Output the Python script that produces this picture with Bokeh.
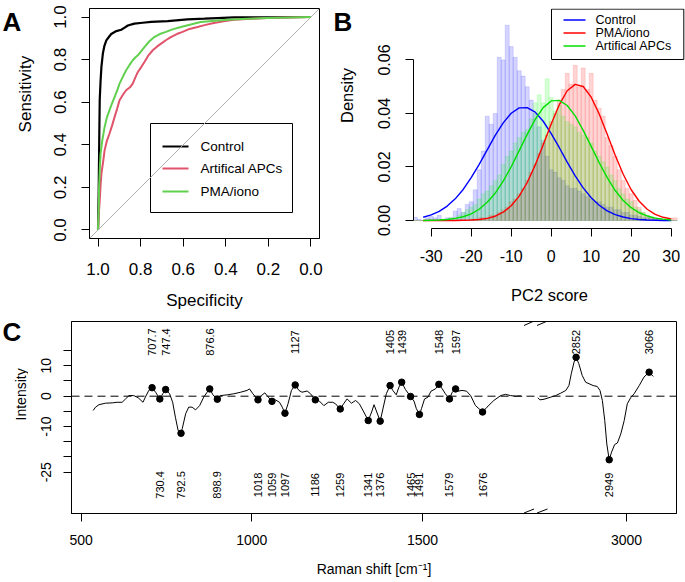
import math
from bokeh.plotting import figure
from bokeh.models import Range1d, FixedTicker, PrintfTickFormatter, Slope, Span
from bokeh.layouts import column, row
from bokeh.embed import file_html
from bokeh.resources import INLINE
from bokeh.core.properties import value

FONT = "Liberation Sans"

# ---------------- Panel A: ROC curves (specificity, sensitivity) ----------------
roc_control_spec = [1.0, 0.997, 0.994, 0.992, 0.988, 0.984, 0.977, 0.970, 0.961, 0.950, 0.938, 0.914, 0.891,
                    0.875, 0.86, 0.829, 0.79, 0.751, 0.673, 0.58, 0.50, 0.44, 0.362, 0.2, 0.0]
roc_control_sens = [0.0, 0.17, 0.45, 0.61, 0.70, 0.766, 0.83, 0.865, 0.89, 0.905, 0.92, 0.934, 0.94,
                    0.95, 0.96, 0.969, 0.973, 0.977, 0.981, 0.989, 0.992, 0.995, 0.998, 0.999, 1.0]
roc_apc_spec = [1.0, 0.996, 0.992, 0.988, 0.984, 0.976, 0.969, 0.958, 0.946, 0.934, 0.922, 0.91, 0.899, 0.883,
                0.868, 0.85, 0.837, 0.825, 0.813, 0.797, 0.782, 0.763, 0.743, 0.722, 0.704, 0.68, 0.658, 0.63,
                0.603, 0.57, 0.533, 0.5, 0.456, 0.41, 0.362, 0.3, 0.207, 0.1, 0.0]
roc_apc_sens = [0.0, 0.08, 0.14, 0.21, 0.266, 0.32, 0.375, 0.42, 0.453, 0.49, 0.531, 0.57, 0.609, 0.635,
                0.656, 0.67, 0.6875, 0.715, 0.742, 0.765, 0.789, 0.82, 0.844, 0.862, 0.875, 0.892, 0.906, 0.92,
                0.93, 0.944, 0.953, 0.962, 0.972, 0.98, 0.9875, 0.991, 0.995, 0.998, 1.0]
roc_pma_spec = [1.0, 0.997, 0.995, 0.991, 0.988, 0.98, 0.969, 0.958, 0.946, 0.934, 0.922, 0.91, 0.899, 0.883,
                0.868, 0.852, 0.837, 0.825, 0.813, 0.797, 0.782, 0.76, 0.736, 0.71, 0.681, 0.65, 0.611, 0.56,
                0.518, 0.45, 0.393, 0.3, 0.207, 0.1, 0.0]
roc_pma_sens = [0.0, 0.1, 0.203, 0.30, 0.359, 0.42, 0.484, 0.53, 0.5625, 0.595, 0.625, 0.655, 0.6875, 0.72,
                0.75, 0.775, 0.797, 0.81, 0.82, 0.84, 0.859, 0.885, 0.906, 0.92, 0.93, 0.942, 0.953, 0.966,
                0.977, 0.983, 0.9875, 0.992, 0.995, 0.998, 1.0]
roc_names = ["Control", "Artifical APCs", "PMA/iono"]
a_ticks = [0.0, 0.2, 0.4, 0.6, 0.8, 1.0]

# ---------------- Panel B: PC2 score histograms + normal fits ----------------
hist_bins = [-34, -33, -32, -31, -30, -29, -28, -27, -26, -25, -24, -23, -22, -21, -20, -19, -18, -17,
             -16, -15, -14, -13, -12, -11, -10, -9, -8, -7, -6, -5, -4, -3, -2, -1, 0, 1, 2, 3, 4, 5, 6,
             7, 8, 9, 10, 11, 12, 13, 14, 15, 16, 17, 18, 19, 20, 21, 22, 23, 24, 25, 26, 27, 28, 29, 30, 31]
hist_control = [0.0012, 0.0005, 0.0, 0.001, 0.0015, 0.001, 0.002, 0.0005, 0.001, 0.001, 0.0035, 0.0045,
                0.003, 0.006, 0.007, 0.0115, 0.019, 0.026, 0.039, 0.036, 0.040, 0.061, 0.060, 0.073, 0.065,
                0.061, 0.056, 0.054, 0.050, 0.045, 0.040, 0.035, 0.030, 0.024, 0.019, 0.018, 0.016, 0.015,
                0.013, 0.012, 0.012, 0.011, 0.010, 0.009, 0.008, 0.007, 0.007, 0.006, 0.005, 0.005, 0.004,
                0.004, 0.003, 0.003, 0.002, 0.002, 0.0015, 0.001, 0.001, 0.001, 0.0005, 0.0005, 0.0, 0.0,
                0.0, 0.0]
hist_pma = [0.0, 0.0, 0.0, 0.0, 0.0, 0.0, 0.0, 0.0, 0.0, 0.0, 0.0, 0.0, 0.0, 0.0, 0.0005, 0.0005, 0.001,
            0.001, 0.001, 0.002, 0.002, 0.003, 0.004, 0.005, 0.007, 0.008, 0.010, 0.012, 0.015, 0.018, 0.021,
            0.025, 0.029, 0.032, 0.037, 0.040, 0.045, 0.049, 0.055, 0.051, 0.058, 0.050, 0.057, 0.049, 0.055,
            0.045, 0.042, 0.039, 0.031, 0.028, 0.024, 0.019, 0.015, 0.012, 0.010, 0.0075, 0.005, 0.003,
            0.002, 0.0012, 0.001, 0.0005, 0.0005, 0.0005, 0.0008, 0.001]
hist_apc = [0.0, 0.0, 0.0, 0.0, 0.0, 0.0, 0.0, 0.0, 0.0005, 0.001, 0.001, 0.002, 0.003, 0.004, 0.005, 0.006,
            0.008, 0.010, 0.011, 0.013, 0.015, 0.017, 0.021, 0.024, 0.026, 0.029, 0.031, 0.033, 0.034, 0.038,
            0.044, 0.047, 0.044, 0.053, 0.046, 0.041, 0.043, 0.039, 0.037, 0.036, 0.035, 0.033, 0.032, 0.031,
            0.029, 0.026, 0.024, 0.022, 0.020, 0.017, 0.015, 0.012, 0.010, 0.008, 0.007, 0.005, 0.004, 0.003,
            0.002, 0.0015, 0.001, 0.0005, 0.0, 0.0, 0.0, 0.0]
fit_x = [-32, -30, -28, -26, -24, -22, -20, -18, -16, -14, -12, -10, -8, -6, -4, -2, 0, 2, 4, 6, 8, 10,
         12, 14, 16, 18, 20, 22, 24, 26, 28, 30]
fit_control = [0.0012, 0.0021, 0.0034, 0.0054, 0.0081, 0.0116, 0.0160, 0.0210, 0.0264, 0.0318, 0.0365,
               0.0401, 0.0421, 0.0422, 0.0405, 0.0371, 0.0325, 0.0273, 0.0218, 0.0167, 0.0122, 0.0085,
               0.0057, 0.0036, 0.0022, 0.0013, 0.0007, 0.0004, 0.0002, 0.0001, 0.0, 0.0]
fit_pma = [0.0, 0.0, 0.0, 0.0, 0.0, 0.0001, 0.0002, 0.0004, 0.0008, 0.0016, 0.0031, 0.0055, 0.0091,
           0.0142, 0.0207, 0.0283, 0.0361, 0.0432, 0.0485, 0.0509, 0.0501, 0.0461, 0.0398, 0.0322, 0.0244,
           0.0173, 0.0115, 0.0072, 0.0042, 0.0023, 0.0012, 0.0006]
fit_apc = [0.0, 0.0001, 0.0002, 0.0004, 0.0008, 0.0014, 0.0025, 0.0042, 0.0068, 0.0102, 0.0147, 0.0201,
           0.0261, 0.0322, 0.0378, 0.0422, 0.0447, 0.0449, 0.0430, 0.0391, 0.0337, 0.0277, 0.0216, 0.0160,
           0.0112, 0.0075, 0.0048, 0.0029, 0.0017, 0.0009, 0.0005, 0.0002]
b_names = ["Control", "PMA/iono", "Artifical APCs"]
b_xticks = [-30, -20, -10, 0, 10, 20, 30]
b_yticks = [0.0, 0.02, 0.04, 0.06]

# ---------------- Panel C: difference spectrum ----------------
spec_lo_x = [535, 542, 552, 571, 591, 605, 620, 630, 640, 654, 667, 681, 688, 698, 707.7, 718, 730.4, 739,
             747.4, 759, 768, 776, 784, 792.5, 796, 806, 815, 825, 835, 847, 859, 869, 876.6, 886, 898.9,
             908, 928, 947, 967, 986, 993, 1003, 1018, 1028, 1038, 1048, 1059, 1069, 1081, 1089, 1097,
             1106, 1116, 1127, 1138, 1147, 1162, 1172, 1186, 1196, 1211, 1224, 1237, 1245, 1259, 1270,
             1279, 1292, 1304, 1315, 1328, 1341, 1351, 1358, 1366, 1376, 1384, 1394, 1405, 1413, 1423,
             1431, 1439, 1450, 1465, 1475, 1482, 1491, 1497, 1506, 1516, 1525, 1538, 1548, 1558, 1567,
             1579, 1587, 1597, 1604, 1616, 1629, 1641, 1655, 1676, 1689, 1709, 1729, 1743, 1758, 1773,
             1787, 1792]
spec_lo_y = [-4.7, -3.6, -2.8, -2.3, -2.2, -2.0, -2.0, -0.9, 0.2, 0.2, -0.5, -2.0, -0.3, 1.9, 2.8, 1.3, -0.9,
             0.8, 2.2, 0.8, -2.0, -6.9, -11.3, -12.2, -10.7, -5.8, -3.6, -3.6, -4.5, -3.1, -0.3, 1.3, 2.4,
             0.45, -1.0, 0.2, 0.45, 0.8, 1.3, 1.9, 2.4, 0.8, -1.2, 0.2, 1.1, -0.3, -1.7, -1.2, -2.0, -3.6,
             -5.6, -2.5, 1.9, 3.7, 1.9, 1.3, 1.7, 0.8, -1.2, -1.4, -3.1, -2.0, -2.0, -2.5, -4.2, -2.3, -0.9,
             -2.3, -1.4, -2.5, -5.2, -8.0, -5.2, -2.8, -5.2, -8.2, -4.2, 0.8, 3.5, 1.9, 0.45, 3.0, 4.6, 2.2,
             -0.1, -1.6, -4.1, -6.0, -4.1, -0.9, -0.3, 1.66, 2.4, 3.9, 2.4, 0.8, -0.9, 1.3, 2.4, 1.66, 1.9,
             1.66, 0.2, -3.05, -5.2, -3.6, -1.4, 0.2, 0.6, 0.2, 0.0, 0.1, -0.1]
spec_hi_x = [2740, 2746, 2758, 2778, 2792, 2807, 2822, 2831, 2838, 2846, 2852, 2860, 2870, 2880, 2890,
             2902, 2914, 2922, 2929, 2936, 2942, 2949, 2956, 2965, 2973, 2983, 2993, 3002, 3012, 3022,
             3037, 3051, 3066, 3078]
spec_hi_y = [-0.5, -1.2, -1.0, -0.3, 0.2, 1.0, 1.9, 3.5, 7.4, 11.2, 12.8, 10.7, 6.8, 4.6, 4.1, 3.5, 3.2,
             1.9, -1.4, -8.0, -15.7, -20.9, -18.4, -15.9, -15.4, -12.4, -8.0, -2.5, -0.5, 0.8, 3.5, 6.3,
             7.9, 6.5]
peak_up_x = [707.7, 747.4, 876.6, 1127, 1405, 1439, 1548, 1597, 2852, 3066]
peak_up_y = [2.8, 2.2, 2.4, 3.7, 3.5, 4.6, 3.9, 2.4, 12.8, 7.9]
peak_up_lab = ["707.7", "747.4", "876.6", "1127", "1405", "1439", "1548", "1597", "2852", "3066"]
peak_dn_x = [730.4, 792.5, 898.9, 1018, 1059, 1097, 1186, 1259, 1341, 1376, 1465, 1491, 1579, 1676, 2949]
peak_dn_y = [-0.9, -12.2, -1.0, -1.2, -1.7, -5.6, -1.2, -4.2, -8.0, -8.2, -0.1, -6.0, -0.9, -5.2, -20.9]
peak_dn_lab = ["730.4", "792.5", "898.9", "1018", "1059", "1097", "1186", "1259", "1341", "1376", "1465",
               "1491", "1579", "1676", "2949"]
c_xticks = [500, 1000, 1500, 3000]
c_yticks = [-25, -20, -15, -10, -5, 0, 5, 10, 15]
c_ylabels = {-25: "-25", -20: "", -15: "", -10: "-10", -5: "", 0: "0", 5: "", 10: "10", 15: ""}
C_OFFSET = 902  # axis break: the high-wavenumber part is shifted left by this much


def brk(v):
    return v - C_OFFSET if v > 2000 else v


def style_axes(p, size):
    for ax in (p.xaxis[0], p.yaxis[0]):
        ax.major_tick_out = 8
        ax.major_tick_in = 0
        ax.minor_tick_line_color = None
        ax.axis_line_color = "black"
        ax.major_tick_line_color = "black"
        ax.major_label_text_font = FONT
        ax.major_label_text_font_size = size
        ax.major_label_text_color = "black"
        ax.axis_label_text_font = FONT
        ax.axis_label_text_font_style = "normal"
        ax.axis_label_text_color = "black"
    p.yaxis[0].major_label_orientation = "parallel"
    p.xgrid.visible = False
    p.ygrid.visible = False
    p.background_fill_color = "white"
    p.border_fill_color = "white"


def text_fig(w, h):
    f = figure(width=w, height=h, x_range=Range1d(0, w), y_range=Range1d(0, h), output_backend="svg",
               toolbar_location=None, min_border=0, min_border_left=0, min_border_right=0,
               min_border_top=0, min_border_bottom=0, x_axis_type=None, y_axis_type=None)
    f.outline_line_color = None
    f.background_fill_color = "white"
    f.border_fill_color = "white"
    return f


def put_text(f, x, y, txt, size, angle=0.0, bold=False, align="center"):
    # x, y: pixel position inside the small text figure, y counted from its top
    f.text(x=[x], y=[f.height - y], text=[txt], angle=angle, text_font=value(FONT), text_font_size=size,
           text_font_style="bold" if bold else "normal", text_align=align, text_baseline="middle",
           text_color="black")


TOP_H = 316   # height of the upper row (A, B)
BOT_H = 266   # height of the lower row (C)

# ======================= Panel A =======================
def a_x(px):
    return 1.04 - (px - 89) * 1.08 / 230


def a_y(py):
    return -0.04 + (238 - py) * 1.08 / 230


LA = text_fig(35, TOP_H)
put_text(LA, 2, 19, "A", "26px", bold=True, align="left")
put_text(LA, 25, 123, "Sensitivity", "17px", angle=math.pi / 2)

pA = figure(frame_width=230, frame_height=230, x_range=Range1d(1.04, -0.04), y_range=Range1d(-0.04, 1.04),
            output_backend="svg", toolbar_location=None, min_border_left=54, min_border_right=11,
            min_border_top=8, min_border_bottom=TOP_H - 238)
pA.outline_line_color = "black"
pA.outline_line_alpha = 1.0
style_axes(pA, "17px")
for ax in (pA.xaxis[0], pA.yaxis[0]):
    ax.ticker = FixedTicker(ticks=a_ticks)
    ax.formatter = PrintfTickFormatter(format="%.1f")
pA.xaxis[0].major_label_standoff = 16
pA.yaxis[0].major_label_standoff = 15
pA.xaxis[0].axis_label = "Specificity"
pA.xaxis[0].axis_label_text_font_size = "17px"
pA.xaxis[0].axis_label_standoff = 13
pA.add_layout(Slope(gradient=-1, y_intercept=1, line_color="#b0b0b0", line_width=1))
pA.line(roc_control_spec, roc_control_sens, line_color="black", line_width=2.2)
pA.line(roc_apc_spec, roc_apc_sens, line_color="#DF536B", line_width=2)
pA.line(roc_pma_spec, roc_pma_sens, line_color="#61D04F", line_width=2)
pA.quad(left=[a_x(150)], right=[a_x(292)], top=[a_y(123)], bottom=[a_y(212)],
        fill_color="white", line_color="black", line_width=1)
a_leg_colors = ["black", "#DF536B", "#61D04F"]
a_leg_rows = [146, 168, 191]
for nm, col, ry in zip(roc_names, a_leg_colors, a_leg_rows):
    pA.line([a_x(162), a_x(188)], [a_y(ry), a_y(ry)], line_color=col, line_width=2.2)
    pA.text(x=[a_x(200)], y=[a_y(ry)], text=[nm], text_font=value(FONT), text_font_size="13.5px",
            text_baseline="middle", text_align="left", text_color="black")

# ======================= Panel B =======================
B_X0, B_X1 = -34.425, 33.575   # frame spans page x 413..685, 4 px per unit
B_Y0, B_Y1 = -0.00299, 0.07925  # frame spans page y 228..8, 2675 px per unit


def b_x(px):
    return B_X0 + (px - 413) / 4.0


def b_y(py):
    return (220 - py) / 2675.0


LB = text_fig(30, TOP_H)
put_text(LB, 3, 19, "B", "26px", bold=True, align="left")
put_text(LB, 16, 125, "Density", "16.5px", angle=math.pi / 2)

pB = figure(frame_width=272, frame_height=220, x_range=Range1d(B_X0, B_X1), y_range=Range1d(B_Y0, B_Y1),
            output_backend="svg", toolbar_location=None, min_border_left=53, min_border_right=0,
            min_border_top=8, min_border_bottom=TOP_H - 228)
pB.outline_line_color = None
style_axes(pB, "16px")
pB.xaxis[0].ticker = FixedTicker(ticks=b_xticks)
pB.xaxis[0].formatter = PrintfTickFormatter(format="%d")
pB.xaxis[0].bounds = (-30, 30)
pB.yaxis[0].ticker = FixedTicker(ticks=b_yticks)
pB.yaxis[0].formatter = PrintfTickFormatter(format="%.2f")
pB.yaxis[0].bounds = (0, 0.06)
pB.xaxis[0].major_label_standoff = 13
pB.yaxis[0].major_label_standoff = 15
pB.xaxis[0].axis_label = "PC2 score"
pB.xaxis[0].axis_label_text_font_size = "16.5px"
pB.xaxis[0].axis_label_standoff = 21

lefts = [b - 0.5 for b in hist_bins]
rights = [b + 0.5 for b in hist_bins]
for vals, col in ((hist_control, "#0000FF"), (hist_pma, "#FF0000"), (hist_apc, "#00FF00")):
    pB.quad(left=lefts, right=rights, top=vals, bottom=[0] * len(vals), fill_color=col,
            fill_alpha=0.17, line_color=col, line_alpha=0.12, line_width=1)
pB.line(fit_x, fit_control, line_color="#0000FF", line_width=1.4)
pB.line(fit_x, fit_pma, line_color="#FF0000", line_width=1.4)
pB.line(fit_x, fit_apc, line_color="#00E000", line_width=1.4)
pB.quad(left=[b_x(551)], right=[b_x(683.3)], top=[b_y(8.6)], bottom=[b_y(59)],
        fill_color="white", line_color="black", line_width=1)
b_leg_colors = ["#0000FF", "#FF0000", "#00E000"]
b_leg_rows = [19.5, 32.5, 45.5]
for nm, col, ry in zip(b_names, b_leg_colors, b_leg_rows):
    pB.line([b_x(563), b_x(585)], [b_y(ry), b_y(ry)], line_color=col, line_width=1.4)
    pB.text(x=[b_x(595)], y=[b_y(ry)], text=[nm], text_font=value(FONT), text_font_size="12.5px",
            text_baseline="middle", text_align="left", text_color="black")

# ======================= Panel C =======================
C_X0, C_X1 = 471.58, 2244.2    # frame spans page x 71..676
C_Y0, C_Y1 = -38.586, 24.572   # frame spans page y 513..321


def c_x(px):
    return C_X0 + (px - 71) * (C_X1 - C_X0) / 605


def c_y(py):
    return C_Y0 + (513 - py) * (C_Y1 - C_Y0) / 192


LC = text_fig(28, BOT_H)
put_text(LC, 2, 331 - TOP_H, "C", "26px", bold=True, align="left")
put_text(LC, 20, 417 - TOP_H, "Intensity", "14px", angle=math.pi / 2)

pC = figure(frame_width=605, frame_height=192, x_range=Range1d(C_X0, C_X1), y_range=Range1d(C_Y0, C_Y1),
            output_backend="svg", toolbar_location=None, min_border_left=43, min_border_right=9,
            min_border_top=321 - TOP_H, min_border_bottom=69)
pC.outline_line_color = "black"
pC.outline_line_alpha = 1.0
style_axes(pC, "14px")
pC.xaxis[0].ticker = FixedTicker(ticks=[brk(t) for t in c_xticks])
pC.xaxis[0].major_label_overrides = {brk(t): str(t) for t in c_xticks}
pC.yaxis[0].ticker = FixedTicker(ticks=c_yticks)
pC.yaxis[0].major_label_overrides = c_ylabels
pC.xaxis[0].major_label_standoff = 13
pC.yaxis[0].major_label_standoff = 12
pC.xaxis[0].axis_label = "Raman shift [cm\u207b\u00b9]"
pC.xaxis[0].axis_label_text_font_size = "14px"
pC.xaxis[0].axis_label_standoff = 13
pC.add_layout(Span(location=0, dimension="width", line_color="black", line_width=1, line_dash="8 5"))
pC.line(spec_lo_x, spec_lo_y, line_color="black", line_width=1)
pC.line([brk(v) for v in spec_hi_x], spec_hi_y, line_color="black", line_width=1)
pC.scatter([brk(v) for v in peak_up_x], peak_up_y, size=6.5, color="black")
pC.scatter([brk(v) for v in peak_dn_x], peak_dn_y, size=6.5, color="black")
pC.text(x=[brk(v) for v in peak_up_x], y=[17.8] * len(peak_up_x), text=peak_up_lab, angle=math.pi / 2,
        text_font=value(FONT), text_font_size="11px", text_align="center", text_baseline="middle",
        text_color="black")
pC.text(x=[brk(v) for v in peak_dn_x], y=[-29.2] * len(peak_dn_x), text=peak_dn_lab, angle=math.pi / 2,
        text_font=value(FONT), text_font_size="11px", text_align="center", text_baseline="middle",
        text_color="black")
# axis-break slashes (top and bottom of the box)
brk_x0 = [c_x(523.5), c_x(536.5), c_x(523.5), c_x(536.5)]
brk_x1 = [c_x(533.5), c_x(547.0), c_x(533.5), c_x(547.0)]
brk_y0 = [c_y(325.0), c_y(325.0), c_y(512.5), c_y(512.5)]
brk_y1 = [c_y(320.5), c_y(320.5), c_y(508.5), c_y(508.5)]
pC.segment(x0=brk_x0, y0=brk_y0, x1=brk_x1, y1=brk_y1, line_color="black", line_width=1)

layout = column(row(LA, pA, LB, pB, spacing=0), row(LC, pC, spacing=0), spacing=0)
open("out.html", "w").write(file_html(layout, INLINE))
